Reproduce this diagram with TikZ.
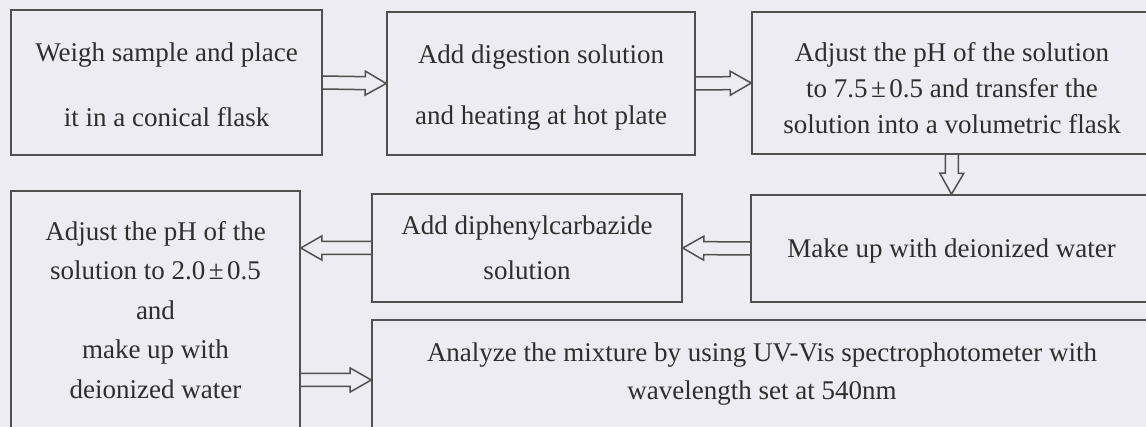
\documentclass[tikz,border=0pt]{standalone}
\usepackage{fontspec}
\setmainfont{Liberation Serif}
\usetikzlibrary{calc}
\definecolor{bg}{HTML}{ECECF2}
\definecolor{ln}{HTML}{505050}
\definecolor{tx}{HTML}{2E2E2E}
\newcommand\pmsp{\kern3.5pt±\kern3.5pt}
\newcommand\hollowarrow[2]{%
  \coordinate (hb) at ($(#2)!21pt!(#1)$);
  \draw[arrline] ($(#1)!6.5pt!90:(#2)$) -- ($(hb)!6.5pt!90:(#2)$) -- ($(hb)!12pt!90:(#2)$) -- (#2) -- ($(hb)!12pt!-90:(#2)$) -- ($(hb)!6.5pt!-90:(#2)$) -- ($(#1)!6.5pt!-90:(#2)$);
}
\begin{document}
\begin{tikzpicture}[x=1pt,y=-1pt,
  box/.style={draw=ln, line width=1.6pt, inner sep=0pt},
  txt/.style={text=tx, align=center, inner sep=0pt, font=\fontsize{27}{35}\selectfont},
  arrline/.style={draw=ln, line width=1.5pt, line join=miter}]
\fill[bg] (0,0) rectangle (1146,427);
\useasboundingbox (0,0) rectangle (1146,427);
\begin{scope}
\clip (0,0) rectangle (1146,427);
\node[box, minimum width=311pt, minimum height=145pt] (b1) at (166.5,82.5) {};
\node[txt] (t1) at ([yshift=-2pt]b1.center) {Weigh sample and place\\[30pt]it in a conical flask};
\node[box, minimum width=308pt, minimum height=143pt] (b2) at (541,83.5) {};
\node[txt] (t2) at ([yshift=-4pt]b2.center) {Add digestion solution\\[26pt]and heating at hot plate};
\node[box, minimum width=400pt, minimum height=142pt] (b3) at (952,83) {};
\node[txt] (t3) at ([yshift=-5pt]b3.center) {Adjust the pH of the solution\\[1pt]to 7.5\pmsp0.5 and transfer the\\[1pt]solution into a volumetric flask};
\node[box, minimum width=401pt, minimum height=107pt] (b4) at (951.5,248.5) {};
\node[txt] (t4) at ([yshift=-3pt]b4.center) {Make up with deionized water};
\node[box, minimum width=310pt, minimum height=108pt] (b5) at (527,248) {};
\node[txt] (t5) at (b5.center) {Add diphenylcarbazide\\[10pt]solution};
\node[box, minimum width=289pt, minimum height=241pt] (b6) at (155.5,311.5) {};
\node[txt] (t6) at ([yshift=1.5pt]b6.center) {Adjust the pH of the\\[4.5pt]solution to 2.0\pmsp0.5\\[4.5pt]and\\[4.5pt]make up with\\[4.5pt]deionized water};
\node[box, minimum width=780pt, minimum height=120pt] (b7) at (762,380) {};
\node[txt] (t7) at ([yshift=6pt]b7.center) {Analyze the mixture by using UV-Vis spectrophotometer with\\[3pt]wavelength set at 540nm};
\hollowarrow{b1.east}{b2.west}
\hollowarrow{b2.east}{b3.west}
\hollowarrow{b3.south}{b4.north}
\hollowarrow{b4.west}{b5.east}
\coordinate (p6) at (b5.west -| b6.east);
\hollowarrow{b5.west}{p6}
\coordinate (s6) at (b7.west -| b6.east);
\hollowarrow{s6}{b7.west}
\end{scope}
\end{tikzpicture}
\end{document}
